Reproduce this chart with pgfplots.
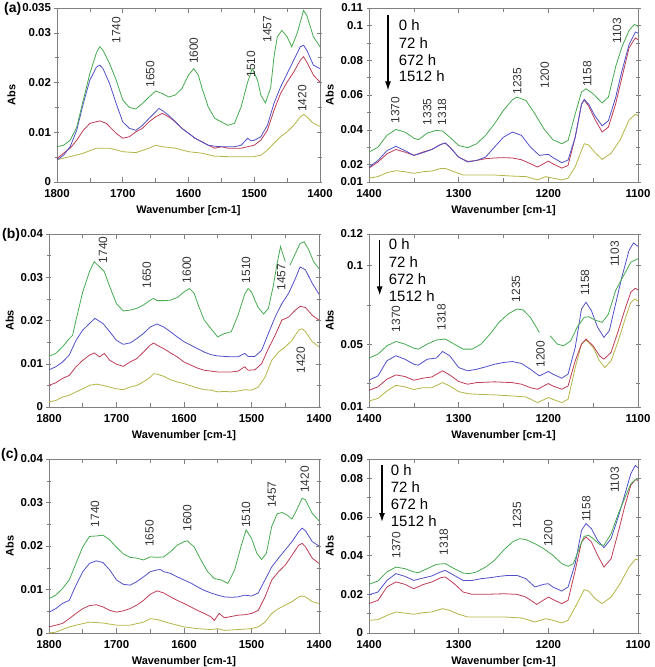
\documentclass[border=0pt]{standalone}
\usepackage{fontspec}
\setmainfont{Liberation Sans}
\usepackage{pgfplots}
\pgfplotsset{compat=1.18}
\usetikzlibrary{arrows.meta}

\definecolor{cG}{RGB}{70,170,80}
\definecolor{cB}{RGB}{80,80,200}
\definecolor{cR}{RGB}{190,60,85}
\definecolor{cY}{RGB}{180,180,70}

\newcommand{\B}[1]{\textbf{#1}}

\pgfplotsset{
  ftir/.style={
    scale only axis, anchor=south west, x dir=reverse,
    axis line style={draw=gray},
    every tick/.style={gray, line width=0.5pt},
    xtick align=inside, ytick align=center,
    major tick length=5bp, minor tick length=4bp,
    tick label style={font=\fontsize{11.5}{12}\selectfont\bfseries},
    xticklabel style={yshift=-4bp},
    label style={font=\fontsize{11}{12}\selectfont\bfseries},
    xlabel style={yshift=-1bp},
    xlabel={Wavenumber [cm-1]}, ylabel={Abs},
    scaled ticks=false, unbounded coords=jump, clip mode=individual,
    every axis plot/.append style={line width=0.8pt, mark=none},
  },
  leftpart/.style={xmin=1400, xmax=1800,
    xtick={1400,1500,1600,1700,1800}, xticklabels={\B{1400},\B{1500},\B{1600},\B{1700},\B{1800}},
    minor xtick={1450,1550,1650,1750}},
  rightpart/.style={xmin=1100, xmax=1400,
    xtick={1100,1200,1300,1400}, xticklabels={\B{1100},\B{1200},\B{1300},\B{1400}},
    minor xtick={1150,1250,1350}},
}
\tikzset{
  peak/.style={rotate=90, anchor=west, inner sep=0pt, text=black!80,
    font=\fontsize{12}{12}\selectfont},
  leg/.style={anchor=base west, inner sep=0pt, font=\fontsize{15}{15}\selectfont},
  plab/.style={anchor=west, inner sep=0pt, font=\fontsize{14}{14}\selectfont\bfseries},
}

\begin{document}
\begin{tikzpicture}
\useasboundingbox (0,0) rectangle (655bp,-667bp);

\node[plab] at (4bp,-9bp) {(a)};
\node[plab] at (2bp,-235bp) {(b)};
\node[plab] at (1bp,-455bp) {(c)};

% ---------------- (a) 1800-1400 ----------------
\begin{axis}[ftir, leftpart, at={(57bp,-182bp)}, width=263bp, height=174bp,
  ymin=0, ymax=0.035, ytick={0,0.01,0.02,0.03,0.035},
  yticklabels={\B{0},\B{0.01},\B{0.02},\B{0.03},\B{0.035}}, minor ytick={0.005,0.015,0.025}]
\addplot[cY] coordinates {(1800,0.0045)(1780,0.0051)(1760,0.0058)(1740,0.0068)(1720,0.0068)(1700,0.0061)(1680,0.0059)(1660,0.0068)(1650,0.0074)(1640,0.0071)(1620,0.0068)(1600,0.0061)(1580,0.0058)(1560,0.0052)(1540,0.0051)(1520,0.0051)(1500,0.0051)(1490,0.0054)(1480,0.0064)(1470,0.0078)(1460,0.0091)(1450,0.0101)(1440,0.0114)(1430,0.0131)(1425,0.0136)(1420,0.0131)(1410,0.0118)(1400,0.0112)};
\addplot[cR] coordinates {(1800,0.0047)(1790,0.0058)(1780,0.0068)(1770,0.0084)(1760,0.0104)(1750,0.0118)(1735,0.0123)(1725,0.0118)(1710,0.0098)(1700,0.0088)(1690,0.0091)(1680,0.0101)(1670,0.0108)(1660,0.0121)(1650,0.0131)(1640,0.0138)(1630,0.0131)(1620,0.0121)(1610,0.0108)(1600,0.0098)(1590,0.0088)(1580,0.0081)(1570,0.0074)(1560,0.0068)(1550,0.0071)(1540,0.0068)(1520,0.0068)(1510,0.0071)(1500,0.0074)(1490,0.0084)(1480,0.0104)(1470,0.0144)(1460,0.0178)(1450,0.0201)(1440,0.0221)(1430,0.0245)(1425,0.0252)(1420,0.0241)(1410,0.0215)(1400,0.0201)};
\addplot[cB] coordinates {(1800,0.0044)(1790,0.0054)(1780,0.0071)(1770,0.0104)(1760,0.0158)(1750,0.0205)(1740,0.0231)(1735,0.0235)(1730,0.0228)(1720,0.0198)(1710,0.0158)(1700,0.0121)(1690,0.0108)(1680,0.0104)(1670,0.0114)(1660,0.0128)(1650,0.0141)(1645,0.0148)(1640,0.0144)(1630,0.0134)(1620,0.0121)(1610,0.0108)(1600,0.0098)(1590,0.0088)(1580,0.0081)(1570,0.0074)(1560,0.0072)(1550,0.0071)(1540,0.0071)(1530,0.0071)(1520,0.0074)(1510,0.0088)(1505,0.0083)(1500,0.0084)(1490,0.0091)(1480,0.0114)(1470,0.0158)(1460,0.0191)(1450,0.0218)(1440,0.0245)(1430,0.0272)(1425,0.0275)(1420,0.0265)(1410,0.0235)(1400,0.0228)};
\addplot[cG] coordinates {(1800,0.0071)(1790,0.0074)(1780,0.0084)(1770,0.011)(1760,0.0165)(1750,0.0218)(1740,0.026)(1735,0.0272)(1730,0.0265)(1720,0.0238)(1710,0.0205)(1700,0.0165)(1690,0.015)(1680,0.0147)(1670,0.0158)(1660,0.0171)(1650,0.0183)(1640,0.0178)(1630,0.0171)(1620,0.0175)(1610,0.0188)(1600,0.0215)(1592,0.0228)(1585,0.0215)(1580,0.0191)(1570,0.0151)(1560,0.0128)(1550,0.0121)(1540,0.0114)(1530,0.0118)(1520,0.0151)(1510,0.0201)(1503,0.0228)(1495,0.0205)(1490,0.0175)(1483,0.0159)(1475,0.019)(1470,0.0251)(1465,0.0292)(1458,0.0305)(1450,0.0292)(1443,0.0272)(1435,0.0298)(1425,0.0345)(1420,0.0335)(1410,0.0292)(1400,0.0272)};
\node[peak] at (axis cs:1710,0.0278) {1740};
\node[peak] at (axis cs:1658,0.019) {1650};
\node[peak] at (axis cs:1592,0.0237) {1600};
\node[peak] at (axis cs:1505,0.021) {1510};
\node[peak] at (axis cs:1480,0.028) {1457};
\node[peak] at (axis cs:1427,0.0141) {1420};
\end{axis}

% ---------------- (a) 1400-1100 ----------------
\begin{axis}[ftir, rightpart, at={(369bp,-182bp)}, width=269bp, height=174bp,
  ymin=0.01, ymax=0.11, ytick={0.01,0.02,0.04,0.06,0.08,0.1,0.11},
  yticklabels={\B{0.01},\B{0.02},\B{0.04},\B{0.06},\B{0.08},\B{0.1},\B{0.11}}, minor ytick={0.03,0.05,0.07,0.09}]
\addplot[cY] coordinates {(1400,0.0122)(1390,0.0131)(1380,0.0154)(1370,0.0165)(1360,0.0159)(1350,0.015)(1340,0.0159)(1330,0.0163)(1320,0.0178)(1315,0.0178)(1305,0.0159)(1295,0.014)(1280,0.014)(1260,0.014)(1240,0.0134)(1225,0.0131)(1212,0.0112)(1203,0.0131)(1195,0.0122)(1185,0.0112)(1178,0.0122)(1170,0.0188)(1160,0.032)(1155,0.0313)(1148,0.0269)(1140,0.023)(1130,0.0265)(1120,0.0341)(1110,0.0456)(1103,0.0489)(1100,0.0481)};
\addplot[cR] coordinates {(1400,0.018)(1390,0.0215)(1380,0.0262)(1370,0.0287)(1360,0.0272)(1350,0.0253)(1340,0.0272)(1330,0.0287)(1320,0.0316)(1315,0.0324)(1310,0.0301)(1300,0.0243)(1290,0.0218)(1280,0.0224)(1270,0.0234)(1260,0.0238)(1250,0.024)(1240,0.0238)(1230,0.0228)(1220,0.0205)(1212,0.0186)(1200,0.022)(1195,0.0205)(1185,0.018)(1178,0.0195)(1170,0.0358)(1163,0.0547)(1160,0.0571)(1155,0.0536)(1148,0.046)(1140,0.0387)(1133,0.0416)(1125,0.0547)(1118,0.0699)(1110,0.0871)(1103,0.0928)(1100,0.0918)};
\addplot[cB] coordinates {(1400,0.0185)(1390,0.0224)(1380,0.028)(1370,0.0305)(1360,0.0281)(1350,0.0253)(1340,0.0268)(1330,0.0287)(1320,0.0316)(1315,0.0324)(1310,0.0301)(1300,0.0243)(1290,0.0215)(1280,0.0224)(1270,0.0243)(1260,0.0301)(1250,0.0358)(1240,0.0387)(1230,0.0368)(1220,0.0301)(1210,0.0253)(1200,0.0259)(1195,0.0241)(1185,0.0211)(1178,0.0226)(1170,0.0358)(1163,0.0547)(1160,0.0575)(1155,0.0547)(1148,0.048)(1140,0.0423)(1133,0.0452)(1125,0.0584)(1118,0.0737)(1110,0.0889)(1103,0.0962)(1100,0.0956)};
\addplot[cG] coordinates {(1400,0.0272)(1390,0.03)(1380,0.0368)(1370,0.0402)(1360,0.0387)(1350,0.0352)(1345,0.0343)(1335,0.0381)(1325,0.0397)(1318,0.0393)(1310,0.0358)(1300,0.031)(1290,0.0297)(1280,0.032)(1270,0.0368)(1260,0.0435)(1250,0.0512)(1240,0.0573)(1235,0.0588)(1225,0.0569)(1215,0.0492)(1205,0.0406)(1195,0.0343)(1185,0.032)(1178,0.0339)(1170,0.0492)(1163,0.0617)(1158,0.0636)(1150,0.0607)(1140,0.0554)(1133,0.0588)(1125,0.0761)(1118,0.0875)(1110,0.0971)(1104,0.1006)(1100,0.0994)};
\node[peak] at (axis cs:1370.6,0.0435) {1370};
\node[peak] at (axis cs:1335,0.0425) {1335};
\node[peak] at (axis cs:1318.6,0.0425) {1318};
\node[peak] at (axis cs:1234.6,0.0602) {1235};
\node[peak] at (axis cs:1204,0.0636) {1200};
\node[peak] at (axis cs:1156.5,0.0646) {1158};
\node[peak] at (axis cs:1123.4,0.0895) {1103};
\draw[-{Latex[length=9bp,width=6bp]}, line width=1.4bp] (axis cs:1378.8,0.1057) -- (axis cs:1378.8,0.0626);
\node[leg] at (axis cs:1366.9,0.0969) {0 h};
\node[leg] at (axis cs:1366.9,0.0868) {72 h};
\node[leg] at (axis cs:1366.9,0.0768) {672 h};
\node[leg] at (axis cs:1366.9,0.0676) {1512 h};
\end{axis}

% ---------------- (b) 1800-1400 ----------------
\begin{axis}[ftir, leftpart, at={(49bp,-407bp)}, width=270bp, height=173bp,
  ymin=0, ymax=0.04, ytick={0,0.01,0.02,0.03,0.04},
  yticklabels={\B{0},\B{0.01},\B{0.02},\B{0.03},\B{0.04}}, minor ytick={0.005,0.015,0.025,0.035}]
\addplot[cY] coordinates {(1800,0.0012)(1790,0.0015)(1780,0.0023)(1770,0.0027)(1760,0.0035)(1750,0.0042)(1740,0.005)(1730,0.0053)(1720,0.005)(1710,0.0046)(1700,0.0042)(1690,0.004)(1680,0.0046)(1670,0.005)(1660,0.0058)(1650,0.0069)(1645,0.0077)(1640,0.0076)(1630,0.0071)(1620,0.0063)(1610,0.0058)(1600,0.0054)(1590,0.0049)(1580,0.0044)(1570,0.004)(1560,0.0039)(1550,0.0035)(1540,0.0036)(1530,0.0035)(1520,0.0037)(1510,0.004)(1500,0.0039)(1490,0.0046)(1480,0.0069)(1470,0.0108)(1460,0.0127)(1450,0.0139)(1440,0.0154)(1430,0.0178)(1425,0.0181)(1420,0.0174)(1410,0.0151)(1400,0.0139)};
\addplot[cR] coordinates {(1800,0.005)(1790,0.0056)(1780,0.0066)(1770,0.0073)(1760,0.0093)(1750,0.0108)(1740,0.012)(1733,0.0125)(1725,0.0116)(1718,0.0124)(1710,0.0108)(1700,0.0099)(1690,0.0094)(1680,0.0104)(1670,0.0112)(1660,0.0127)(1650,0.0143)(1645,0.0148)(1640,0.0143)(1630,0.0135)(1620,0.0125)(1610,0.0116)(1600,0.0104)(1590,0.0097)(1580,0.009)(1570,0.0085)(1560,0.0083)(1550,0.0081)(1540,0.0081)(1530,0.0081)(1520,0.0083)(1510,0.0093)(1505,0.0085)(1495,0.0086)(1485,0.01)(1475,0.0135)(1465,0.0166)(1455,0.0201)(1445,0.0208)(1435,0.0224)(1428,0.0233)(1420,0.023)(1410,0.0212)(1400,0.0201)};
\addplot[cB] coordinates {(1800,0.0086)(1790,0.0093)(1780,0.0104)(1770,0.012)(1760,0.0154)(1750,0.0178)(1740,0.0193)(1732,0.0205)(1720,0.0193)(1710,0.0174)(1700,0.0154)(1690,0.0145)(1680,0.0148)(1670,0.0158)(1660,0.017)(1650,0.0185)(1640,0.0192)(1630,0.0185)(1620,0.0174)(1610,0.0162)(1600,0.0151)(1590,0.0143)(1580,0.0135)(1570,0.0127)(1560,0.0121)(1550,0.0118)(1540,0.0117)(1530,0.0116)(1520,0.0116)(1510,0.0124)(1505,0.0117)(1495,0.0117)(1485,0.0131)(1475,0.017)(1465,0.0208)(1455,0.0239)(1445,0.0263)(1435,0.0297)(1428,0.0324)(1420,0.0317)(1410,0.0286)(1400,0.0261)};
\addplot[cG] coordinates {(1800,0.0117)(1790,0.0124)(1780,0.0139)(1770,0.0158)(1765,0.0166)(1760,0.0201)(1750,0.0266)(1740,0.0313)(1733,0.0336)(1725,0.0324)(1718,0.0313)(1710,0.0278)(1700,0.0239)(1690,0.0222)(1680,0.0224)(1670,0.0228)(1660,0.0236)(1650,0.0247)(1645,0.0251)(1640,0.0246)(1630,0.0246)(1620,0.0247)(1610,0.0253)(1600,0.0266)(1592,0.0274)(1585,0.0263)(1578,0.0232)(1570,0.0201)(1560,0.0181)(1550,0.0162)(1540,0.017)(1530,0.0174)(1520,0.0212)(1510,0.0261)(1505,0.0274)(1500,0.0266)(1495,0.0247)(1490,0.023)(1482,0.0215)(1475,0.0228)(1468,0.0278)(1462,0.0332)(1457,0.0371)(1450,0.0336)(1447,nan)(1443,0.0328)(1435,0.0355)(1428,0.0378)(1422,0.0382)(1415,0.0363)(1408,0.0336)(1400,0.032)};
\node[peak] at (axis cs:1720,0.0332) {1740};
\node[peak] at (axis cs:1655,0.0274) {1650};
\node[peak] at (axis cs:1596,0.0286) {1600};
\node[peak] at (axis cs:1508,0.0286) {1510};
\node[peak] at (axis cs:1456,0.0269) {1457};
\node[peak] at (axis cs:1427,0.0077) {1420};
\end{axis}

% ---------------- (b) 1400-1100 ----------------
\begin{axis}[ftir, rightpart, at={(369bp,-407bp)}, width=269bp, height=173bp,
  ymin=0.01, ymax=0.12, ytick={0.01,0.05,0.1,0.12},
  yticklabels={\B{0.01},\B{0.05},\B{0.1},\B{0.12}}, minor ytick={0.025,0.075}]
\addplot[cY] coordinates {(1400,0.0138)(1390,0.0155)(1380,0.0202)(1370,0.0238)(1360,0.0228)(1350,0.0211)(1340,0.0223)(1330,0.0223)(1318,0.0255)(1310,0.0234)(1300,0.0198)(1290,0.0185)(1280,0.0181)(1260,0.0177)(1240,0.017)(1225,0.0164)(1212,0.0128)(1200,0.016)(1195,0.0149)(1185,0.0128)(1178,0.0149)(1170,0.0351)(1163,0.05)(1158,0.0526)(1150,0.0479)(1143,0.0394)(1137,0.0351)(1130,0.0394)(1122,0.0521)(1115,0.0649)(1108,0.0766)(1103,0.0787)(1100,0.0772)};
\addplot[cR] coordinates {(1400,0.0206)(1390,0.0228)(1380,0.0277)(1370,0.0304)(1360,0.0294)(1350,0.027)(1340,0.0283)(1330,0.0291)(1318,0.033)(1310,0.0304)(1300,0.0262)(1290,0.0245)(1280,0.0255)(1260,0.026)(1240,0.0255)(1230,0.0245)(1220,0.0223)(1212,0.0213)(1200,0.0249)(1195,0.0234)(1185,0.0213)(1178,0.0234)(1170,0.0394)(1163,0.05)(1158,0.0532)(1150,0.0489)(1143,0.0426)(1138,0.0404)(1130,0.0447)(1122,0.0585)(1115,0.0713)(1108,0.083)(1103,0.0855)(1100,0.0845)};
\addplot[cB] coordinates {(1400,0.027)(1390,0.0298)(1380,0.0394)(1370,0.0426)(1360,0.0404)(1350,0.0372)(1345,0.0366)(1335,0.0404)(1325,0.0411)(1318,0.0453)(1310,0.0426)(1300,0.0351)(1290,0.033)(1280,0.034)(1270,0.0355)(1260,0.0372)(1250,0.0383)(1240,0.0389)(1230,0.0377)(1220,0.034)(1210,0.0298)(1200,0.0326)(1195,0.0309)(1185,0.0283)(1178,0.0309)(1170,0.0479)(1163,0.0723)(1158,0.0766)(1152,0.0713)(1145,0.0606)(1138,0.0543)(1132,0.0585)(1125,0.0755)(1118,0.0926)(1110,0.1096)(1105,0.1143)(1100,0.1121)};
\addplot[cG] coordinates {(1400,0.0411)(1390,0.0436)(1380,0.0489)(1370,0.0517)(1360,0.05)(1350,0.0474)(1345,0.0468)(1335,0.05)(1325,0.0526)(1315,0.0532)(1305,0.05)(1295,0.0468)(1285,0.0468)(1275,0.05)(1265,0.0564)(1255,0.0638)(1245,0.0691)(1235,0.0723)(1228,0.0717)(1220,0.067)(1210,0.0574)(1204,nan)(1198,0.0553)(1190,0.05)(1183,0.0489)(1175,0.0521)(1168,0.0606)(1160,0.067)(1155,0.0674)(1148,0.0653)(1140,0.0638)(1133,0.0691)(1125,0.084)(1115,0.0947)(1108,0.1021)(1100,0.1043)};
\node[peak] at (axis cs:1370,0.0574) {1370};
\node[peak] at (axis cs:1319,0.0585) {1318};
\node[peak] at (axis cs:1236,0.0766) {1235};
\node[peak] at (axis cs:1208.6,0.0351) {1200};
\node[peak] at (axis cs:1159,0.0809) {1158};
\node[peak] at (axis cs:1126,0.0989) {1103};
\draw[-{Latex[length=9bp,width=6bp]}, line width=1.4bp] (axis cs:1388.1,0.1164) -- (axis cs:1388.1,0.0809);
\node[leg] at (axis cs:1378,0.110) {0 h};
\node[leg] at (axis cs:1378,0.0987) {72 h};
\node[leg] at (axis cs:1378,0.0877) {672 h};
\node[leg] at (axis cs:1378,0.0768) {1512 h};
\end{axis}

% ---------------- (c) 1800-1400 ----------------
\begin{axis}[ftir, leftpart, at={(49bp,-633bp)}, width=270bp, height=174bp,
  ymin=0, ymax=0.04, ytick={0,0.01,0.02,0.03,0.04},
  yticklabels={\B{0},\B{0.01},\B{0.02},\B{0.03},\B{0.04}}, minor ytick={0.005,0.015,0.025,0.035}]
\addplot[cY] coordinates {(1800,0)(1790,0.0002)(1780,0.0008)(1770,0.0014)(1760,0.0018)(1740,0.0025)(1720,0.0023)(1700,0.0018)(1680,0.0018)(1660,0.0025)(1650,0.0033)(1640,0.0031)(1620,0.0022)(1600,0.0014)(1580,0.001)(1560,0.0008)(1550,0.001)(1540,0.0006)(1520,0.0008)(1500,0.001)(1490,0.0014)(1480,0.0025)(1470,0.0045)(1460,0.0056)(1450,0.0064)(1440,0.0072)(1430,0.0083)(1425,0.0085)(1420,0.0083)(1410,0.0072)(1400,0.0068)};
\addplot[cR] coordinates {(1800,0.0014)(1790,0.0018)(1780,0.0022)(1770,0.0033)(1760,0.0045)(1750,0.0056)(1740,0.0063)(1730,0.0065)(1720,0.006)(1710,0.0052)(1700,0.0048)(1690,0.0051)(1680,0.0056)(1670,0.0064)(1660,0.0075)(1650,0.0089)(1640,0.0097)(1630,0.0092)(1620,0.0083)(1610,0.0075)(1600,0.0068)(1590,0.006)(1580,0.0052)(1570,0.0045)(1560,0.0037)(1555,0.0029)(1548,0.0045)(1540,0.0035)(1530,0.0038)(1520,0.0041)(1510,0.0042)(1500,0.0045)(1490,0.0052)(1480,0.0083)(1470,0.0122)(1460,0.0141)(1450,0.0156)(1440,0.0179)(1430,0.0202)(1425,0.0206)(1420,0.0198)(1410,0.0172)(1400,0.016)};
\addplot[cB] coordinates {(1800,0.0048)(1790,0.0056)(1780,0.0068)(1770,0.0075)(1760,0.011)(1750,0.0141)(1740,0.016)(1730,0.0166)(1720,0.0162)(1710,0.0145)(1700,0.0122)(1690,0.0112)(1680,0.011)(1670,0.0118)(1660,0.0129)(1650,0.0141)(1640,0.0145)(1635,0.0146)(1630,0.0141)(1620,0.0137)(1610,0.0129)(1600,0.0122)(1590,0.0115)(1580,0.0106)(1570,0.0098)(1560,0.0092)(1550,0.0087)(1540,0.0083)(1530,0.0082)(1520,0.0083)(1510,0.0087)(1500,0.0085)(1490,0.0092)(1480,0.0122)(1470,0.0152)(1460,0.0172)(1450,0.0191)(1440,0.021)(1430,0.0233)(1425,0.0241)(1420,0.0235)(1410,0.021)(1400,0.02)};
\addplot[cG] coordinates {(1800,0.0079)(1790,0.0087)(1780,0.0102)(1770,0.0122)(1760,0.016)(1750,0.0198)(1740,0.0222)(1730,0.0223)(1720,0.0225)(1710,0.0214)(1700,0.0197)(1690,0.0182)(1680,0.0174)(1670,0.0172)(1660,0.0168)(1650,0.0175)(1640,0.0174)(1630,0.0175)(1620,0.0187)(1610,0.0202)(1600,0.021)(1595,0.0212)(1585,0.0198)(1575,0.0168)(1565,0.0141)(1555,0.0125)(1545,0.0122)(1535,0.0114)(1525,0.0145)(1515,0.0202)(1508,0.0237)(1500,0.0218)(1492,0.0183)(1485,0.0169)(1478,0.0183)(1470,0.0245)(1462,0.0274)(1455,0.0277)(1448,0.0272)(1440,0.0262)(1433,0.0283)(1425,0.031)(1420,0.0306)(1410,0.0275)(1400,0.0258)};
\node[peak] at (axis cs:1732,0.0243) {1740};
\node[peak] at (axis cs:1651,0.0198) {1650};
\node[peak] at (axis cs:1595,0.0233) {1600};
\node[peak] at (axis cs:1508,0.0241) {1510};
\node[peak] at (axis cs:1470,0.0287) {1457};
\node[peak] at (axis cs:1421,0.0322) {1420};
\end{axis}

% ---------------- (c) 1400-1100 ----------------
\begin{axis}[ftir, rightpart, at={(369bp,-633bp)}, width=269bp, height=174bp,
  ymin=0, ymax=0.09, ytick={0,0.02,0.04,0.06,0.08,0.09},
  yticklabels={\B{0},\B{0.02},\B{0.04},\B{0.06},\B{0.08},\B{0.09}}, minor ytick={0.01,0.03,0.05,0.07}]
\addplot[cY] coordinates {(1400,0.0066)(1390,0.0069)(1380,0.0091)(1370,0.0109)(1360,0.0103)(1350,0.0097)(1340,0.0105)(1330,0.0109)(1318,0.0126)(1310,0.0117)(1300,0.0097)(1290,0.0083)(1270,0.0083)(1250,0.0083)(1230,0.0078)(1215,0.0057)(1203,0.0074)(1195,0.0066)(1185,0.0052)(1178,0.0066)(1170,0.0134)(1160,0.0224)(1155,0.0217)(1148,0.0178)(1140,0.0152)(1130,0.0186)(1120,0.0255)(1110,0.0341)(1103,0.0381)(1100,0.0379)};
\addplot[cR] coordinates {(1400,0.0152)(1390,0.0169)(1380,0.0238)(1370,0.0264)(1360,0.0252)(1350,0.0229)(1340,0.025)(1330,0.0264)(1320,0.0286)(1315,0.029)(1305,0.0255)(1295,0.0212)(1285,0.02)(1270,0.02)(1250,0.0203)(1235,0.02)(1225,0.0186)(1213,0.0148)(1200,0.0186)(1193,0.0169)(1185,0.0152)(1178,0.0169)(1170,0.0324)(1163,0.0471)(1158,0.0497)(1152,0.0471)(1145,0.0402)(1138,0.0341)(1130,0.0384)(1122,0.0522)(1115,0.0652)(1108,0.0764)(1103,0.0793)(1100,0.079)};
\addplot[cB] coordinates {(1400,0.0198)(1390,0.0212)(1380,0.0272)(1370,0.0307)(1360,0.0293)(1350,0.0272)(1340,0.0284)(1330,0.0295)(1320,0.0316)(1315,0.0324)(1305,0.0298)(1295,0.0272)(1285,0.0272)(1275,0.0281)(1265,0.0286)(1255,0.0293)(1245,0.0298)(1235,0.0298)(1225,0.0281)(1215,0.0238)(1205,0.0252)(1200,0.0255)(1195,0.0238)(1185,0.0217)(1178,0.0238)(1170,0.0359)(1163,0.0531)(1158,0.0566)(1152,0.054)(1145,0.0479)(1138,0.0441)(1130,0.0488)(1122,0.06)(1115,0.0712)(1108,0.0824)(1103,0.0867)(1100,0.0855)};
\addplot[cG] coordinates {(1400,0.0252)(1390,0.0269)(1380,0.0316)(1370,0.0341)(1360,0.0333)(1350,0.0316)(1345,0.0312)(1335,0.0333)(1325,0.0355)(1315,0.0359)(1305,0.0333)(1295,0.031)(1288,0.0307)(1280,0.0316)(1270,0.0341)(1260,0.0376)(1250,0.0428)(1240,0.0471)(1232,0.0488)(1225,0.0483)(1215,0.0462)(1205,0.0436)(1195,0.0402)(1185,0.0359)(1178,0.0345)(1172,0.0359)(1165,0.0445)(1160,0.05)(1155,0.0505)(1150,0.0488)(1143,0.0459)(1138,0.0453)(1130,0.0514)(1122,0.0617)(1115,0.0695)(1108,0.0772)(1103,0.0793)(1100,0.0793)};
\node[peak] at (axis cs:1369.5,0.0384) {1370};
\node[peak] at (axis cs:1316.7,0.0402) {1318};
\node[peak] at (axis cs:1235,0.054) {1235};
\node[peak] at (axis cs:1200,0.0445) {1200};
\node[peak] at (axis cs:1157.6,0.0574) {1158};
\node[peak] at (axis cs:1126,0.0724) {1103};
\draw[-{Latex[length=9bp,width=6bp]}, line width=1.4bp] (axis cs:1385.5,0.0867) -- (axis cs:1385.5,0.0574);
\node[leg] at (axis cs:1375.8,0.0817) {0 h};
\node[leg] at (axis cs:1375.8,0.0728) {72 h};
\node[leg] at (axis cs:1375.8,0.0638) {672 h};
\node[leg] at (axis cs:1375.8,0.055) {1512 h};
\end{axis}
\end{tikzpicture}
\end{document}
